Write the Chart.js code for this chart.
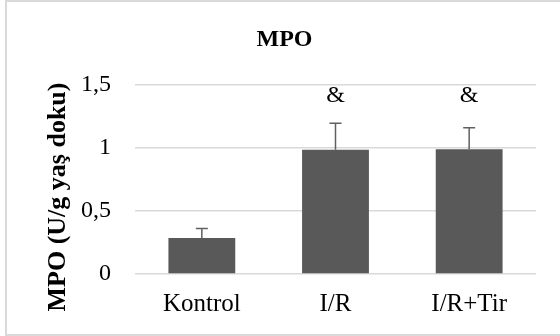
<!DOCTYPE html>
<html>
<head>
<meta charset="utf-8">
<script src="https://cdn.jsdelivr.net/npm/chart.js@4"></script>
<style>
  body { margin: 0; background: #fff; overflow: hidden; }
  #wrap { position: relative; width: 560px; height: 336px; overflow: hidden; }
  #frame {
    position: absolute; left: 5px; top: 0; width: 600px; height: 332px;
    border: 2px solid #d9d9d9; pointer-events: none;
  }
  canvas { display: block; }
</style>
</head>
<body>
<div id="wrap">
  <canvas id="mpoChart" width="560" height="336"></canvas>
  <div id="frame"></div>
</div>
<script>
const categories = ["Kontrol", "I/R", "I/R+Tir"];
const means = [0.285, 0.985, 0.99];
const errors = [0.075, 0.21, 0.17];
const marks = ["", "&", "&"];
const yTicks = [0, 0.5, 1, 1.5];
const yTickLabels = ["0", "0,5", "1", "1,5"];

const serif = "'Liberation Serif', 'Times New Roman', serif";
const barColor = "#595959";

// error bars (upper only), significance marks and y title
const extras = {
  id: "extras",
  afterDatasetsDraw(chart) {
    const ctx = chart.ctx;
    const x = chart.scales.x;
    const y = chart.scales.y;
    ctx.save();
    ctx.strokeStyle = "#606060";
    ctx.lineWidth = 1.5;
    means.forEach((m, i) => {
      const cx = x.getPixelForValue(i);
      const y0 = y.getPixelForValue(m);
      const y1 = y.getPixelForValue(m + errors[i]);
      ctx.beginPath();
      ctx.moveTo(cx, y0);
      ctx.lineTo(cx, y1);
      ctx.moveTo(cx - 6, y1);
      ctx.lineTo(cx + 6, y1);
      ctx.stroke();
    });
    ctx.fillStyle = "#000";
    ctx.font = "24px " + serif;
    ctx.textAlign = "center";
    ctx.textBaseline = "middle";
    marks.forEach((t, i) => {
      if (t) ctx.fillText(t, x.getPixelForValue(i), y.getPixelForValue(1.41));
    });
    // y axis title
    ctx.translate(58, 197);
    ctx.rotate(-Math.PI / 2);
    ctx.font = "bold 26px " + serif;
    ctx.fillText("MPO (U/g yaş doku)", 0, 0);
    ctx.restore();
  }
};

new Chart(document.getElementById("mpoChart"), {
  type: "bar",
  data: {
    labels: categories,
    datasets: [{
      data: means,
      backgroundColor: barColor,
      borderWidth: 0,
      categoryPercentage: 1,
      barPercentage: 0.5
    }]
  },
  options: {
    responsive: false,
    animation: false,
    layout: { padding: { left: 33, right: 24, top: 0, bottom: 10 } },
    plugins: {
      legend: { display: false },
      tooltip: { enabled: false },
      title: {
        display: true,
        text: "MPO",
        color: "#000",
        font: { family: serif, size: 24, weight: "bold", lineHeight: 1.2 },
        padding: { top: 25, bottom: 31 }
      }
    },
    scales: {
      x: {
        grid: { display: false },
        border: { display: false },
        ticks: {
          color: "#000",
          padding: 7,
          font: { family: serif, size: 25, lineHeight: 1.2 },
          maxRotation: 0
        }
      },
      y: {
        min: 0,
        max: 1.5,
        afterFit(scale) { scale.width = 102; },
        afterBuildTicks(scale) { scale.ticks = yTicks.map(v => ({ value: v })); },
        grid: { color: "#d9d9d9", lineWidth: 1.5, drawTicks: false },
        border: { display: false },
        ticks: {
          color: "#000",
          padding: 24,
          font: { family: serif, size: 24 },
          callback: (v, i) => yTickLabels[i]
        }
      }
    }
  },
  plugins: [extras]
});
</script>
</body>
</html>
